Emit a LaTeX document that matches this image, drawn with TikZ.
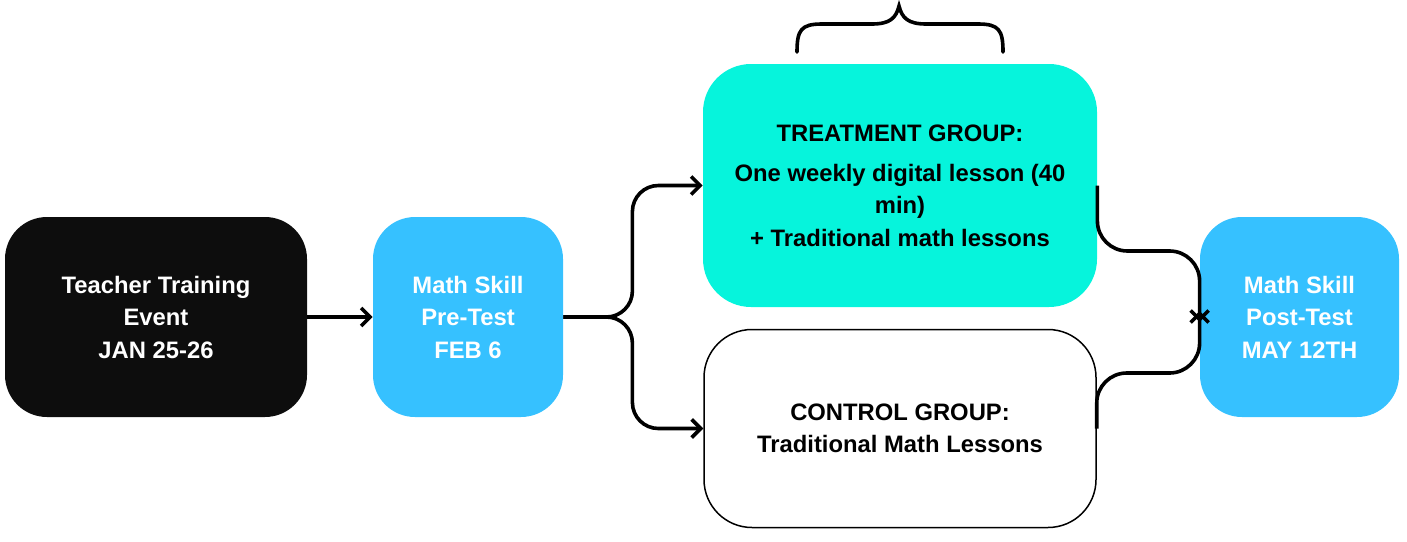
\documentclass[tikz,border=0pt]{standalone}
\usepackage{fontspec}
\setmainfont{Liberation Sans}
\usetikzlibrary{arrows.meta}
\definecolor{boxblack}{HTML}{0D0D0D}
\definecolor{skyblue}{HTML}{36C1FF}
\definecolor{teal}{HTML}{06F4DC}
\begin{document}
\begin{tikzpicture}[x=0.5pt,y=-0.5pt,
  box/.style={rounded corners=21pt, inner sep=0pt, align=center,
    font=\bfseries\fontsize{11.9}{16.25}\selectfont},
  conn/.style={line width=1.8pt, -{Straight Barb[length=4.5pt,width=9pt,line width=1.8pt]}},
  merge/.style={line width=1.8pt, rounded corners=15pt, -{Straight Barb[length=4.5pt,width=9pt,line width=1.8pt]}}]
\useasboundingbox (0,0) rectangle (1407,541);
\node[box, fill=boxblack, text=white, minimum width=151pt, minimum height=100pt] (teach) at (156,317)
  {Teacher Training\\Event\\JAN 25-26};
\node[box, fill=skyblue, text=white, minimum width=95pt, minimum height=100pt] (pre) at (468,317)
  {Math Skill\\Pre-Test\\FEB 6};
\node[box, rounded corners=24pt, fill=teal, text=black, minimum width=197pt, minimum height=121.5pt] (tr) at (900,185.5)
  {TREATMENT GROUP:\\[3.75pt]One weekly digital lesson (40\\min)\\+ Traditional math lessons};
\node[box, rounded corners=24pt, draw=black, line width=0.75pt, fill=white, text=black, minimum width=196pt, minimum height=99pt] (ctrl) at (900,428.5)
  {CONTROL GROUP:\\Traditional Math Lessons};
\node[box, fill=skyblue, text=white, minimum width=99.5pt, minimum height=100pt] (post) at (1299.5,317)
  {Math Skill\\Post-Test\\MAY 12TH};
\draw[conn] (teach.east) -- (pre.west);
\draw[conn, rounded corners=13pt] (pre.east) -- ++(69,0) |- (tr.west);
\draw[conn, rounded corners=13pt] (pre.east) -- ++(69,0) |- (ctrl.west);
\draw[merge] (tr.east) -- ++(0,65.5) -| ([yshift=-2.5pt]post.west);
\draw[merge] (ctrl.east) -- ++(0,-55.5) -| ([yshift=3pt]post.west);
\draw[line width=1.8pt, line cap=round] (797,52) .. controls (797,30) and (801,24) .. (822,24) -- (872,24)
  .. controls (890,24) and (896,18) .. (899,6) .. controls (902,18) and (908,24) .. (926,24) -- (978,24)
  .. controls (999,24) and (1003,30) .. (1003,52);
\end{tikzpicture}
\end{document}
